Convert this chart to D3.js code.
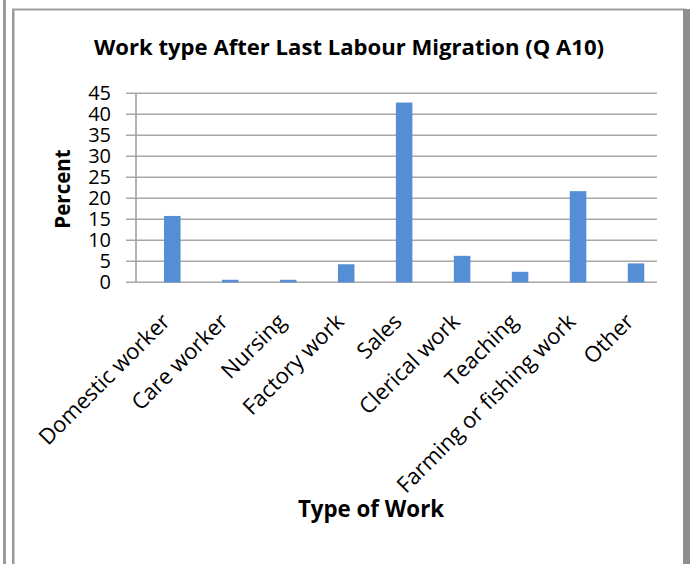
<!DOCTYPE html>
<html>
<head>
<meta charset="utf-8">
<script src="https://cdn.jsdelivr.net/npm/d3@7"></script>
<style>
  html, body { margin: 0; padding: 0; background: #fff; }
  svg { display: block; }
  text { font-family: "Open Sans", Lato, sans-serif; fill: #000; }
</style>
</head>
<body>
<script>
const categories = ["Domestic worker", "Care worker", "Nursing", "Factory work", "Sales",
  "Clerical work", "Teaching", "Farming or fishing work", "Other"];
const values = [15.8, 0.6, 0.6, 4.3, 42.8, 6.3, 2.5, 21.7, 4.5];
const yTicks = [0, 5, 10, 15, 20, 25, 30, 35, 40, 45];
const title = "Work type After Last Labour Migration (Q A10)";
const xTitle = "Type of Work";
const yTitle = "Percent";

const W = 693, H = 564;
const svg = d3.select("body").append("svg").attr("width", W).attr("height", H);

// frame
svg.append("rect").attr("x", 3).attr("y", 0).attr("width", 3).attr("height", H).attr("fill", "#9a9a9a");
svg.append("rect").attr("x", 12).attr("y", 9).attr("width", 2.5).attr("height", H - 9).attr("fill", "#9a9a9a");
svg.append("rect").attr("x", 12).attr("y", 8.5).attr("width", 674).attr("height", 2).attr("fill", "#a0a0a0");
svg.append("rect").attr("x", 683).attr("y", 9).attr("width", 7).attr("height", H - 9).attr("fill", "#8f8f8f");

const y = d3.scaleLinear().domain([0, 45]).range([282.3, 93.3]);
const x = d3.scaleBand().domain(categories).range([143.3, 665]).paddingInner(0.715).paddingOuter(0.3575);

// gridlines
svg.append("g").selectAll("line").data(yTicks).join("line")
  .attr("x1", 126).attr("x2", 657)
  .attr("y1", d => y(d)).attr("y2", d => y(d))
  .attr("stroke", "#a8a8a8").attr("stroke-width", 1.6);

// y axis line
svg.append("line").attr("x1", 136).attr("x2", 136).attr("y1", y(45)).attr("y2", y(0))
  .attr("stroke", "#a0a0a0").attr("stroke-width", 1.6);

// y tick labels
svg.append("g").selectAll("text").data(yTicks).join("text")
  .attr("x", 111).attr("y", d => y(d)).attr("dy", "0.35em")
  .attr("text-anchor", "end").attr("font-size", 20)
  .text(d => d);

// bars
svg.append("g").selectAll("rect").data(values).join("rect")
  .attr("x", (d, i) => x(categories[i]))
  .attr("width", x.bandwidth())
  .attr("y", d => y(d))
  .attr("height", d => y(0) - y(d))
  .attr("fill", "#558ed5");

// x labels
svg.append("g").selectAll("text").data(categories).join("text")
  .attr("transform", d => `translate(${x(d) + x.bandwidth() / 2 - 1},${323}) rotate(-45)`)
  .attr("text-anchor", "end").attr("font-size", 22)
  .text(d => d);

// titles
svg.append("text").attr("x", 349).attr("y", 55).attr("text-anchor", "middle")
  .attr("font-size", 22.1).attr("font-weight", "bold").text(title);
svg.append("text").attr("x", 371).attr("y", 517).attr("text-anchor", "middle")
  .attr("font-size", 22.3).attr("font-weight", "bold").text(xTitle);
svg.append("text").attr("transform", "translate(70,189) rotate(-90)").attr("text-anchor", "middle")
  .attr("font-size", 20.5).attr("font-weight", "bold").text(yTitle);
</script>
</body>
</html>
